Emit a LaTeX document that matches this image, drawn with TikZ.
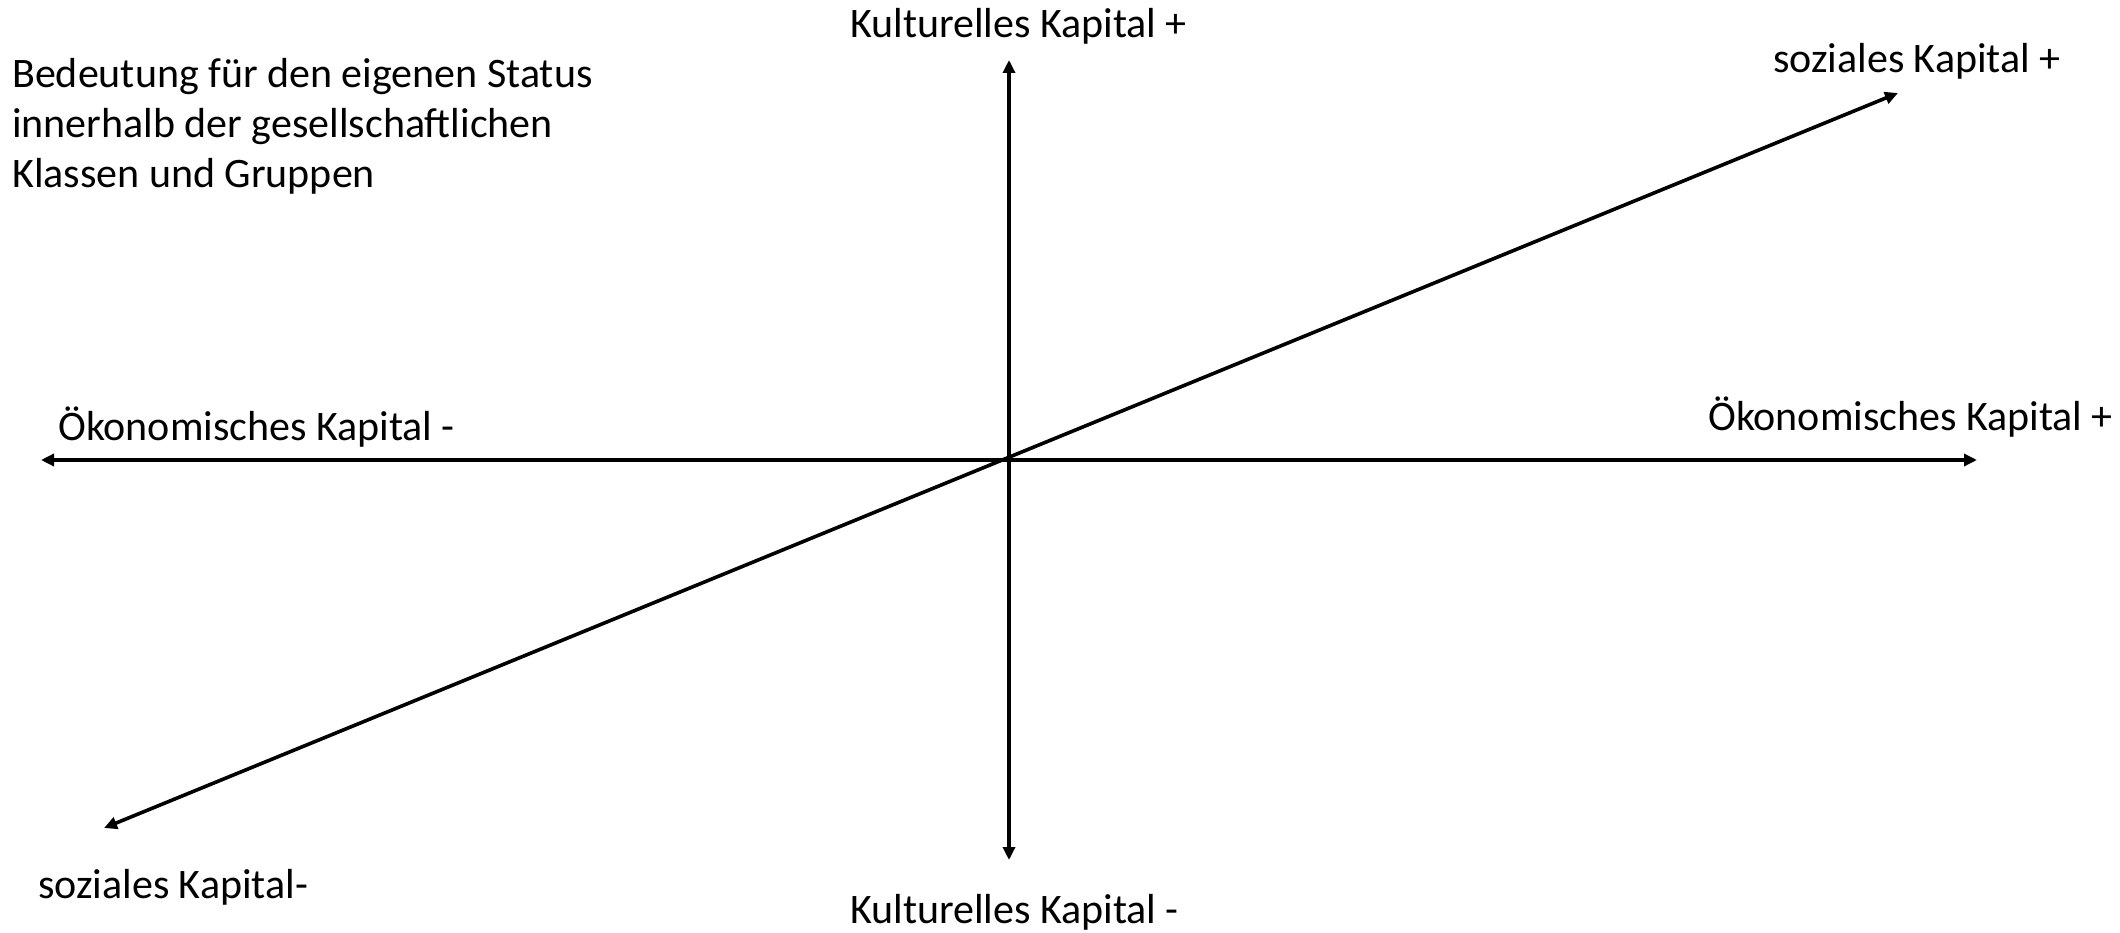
\documentclass[tikz,border=0pt]{standalone}
\usepackage{fontspec}
\setmainfont{Carlito}
\usetikzlibrary{arrows.meta}
\begin{document}
\begin{tikzpicture}[x=1pt,y=-1pt,
  axis/.style={line width=3.6pt,{Triangle[length=13pt,width=12pt]}-{Triangle[length=13pt,width=12pt]}},
  lbl/.style={anchor=base west,inner sep=0pt,font=\fontsize{42}{50}\selectfont}]
\useasboundingbox (0,0) rectangle (2120,933);
\coordinate (O) at (1009,460);
\coordinate (ytop) at (1009,60);
\coordinate (ybot) at (1009,860);
\coordinate (xneg) at (41,460);
\coordinate (xpos) at (1977,460);
\coordinate (spos) at (1898,93);
\coordinate (sneg) at (104,828);
\draw[axis] (ybot) -- (ytop);
\draw[axis] (xneg) -- (xpos);
\draw[axis] (sneg) -- (spos);
\node[lbl] (title) at (12,88) {Bedeutung für den eigenen Status};
\node[lbl] (title2) at (12,138) {innerhalb der gesellschaftlichen};
\node[lbl] (title3) at (12,188) {Klassen und Gruppen};
\node[lbl] (kp) at (850,38) {Kulturelles Kapital +};
\node[lbl] (km) at (850,923) {Kulturelles Kapital -};
\node[lbl] (sp) at (1773,73) {soziales Kapital +};
\node[lbl] (sm) at (38,898) {soziales Kapital-};
\node[lbl] (om) at (58,440) {Ökonomisches Kapital -};
\node[lbl] (op) at (1708,430) {Ökonomisches Kapital +};
\end{tikzpicture}
\end{document}
